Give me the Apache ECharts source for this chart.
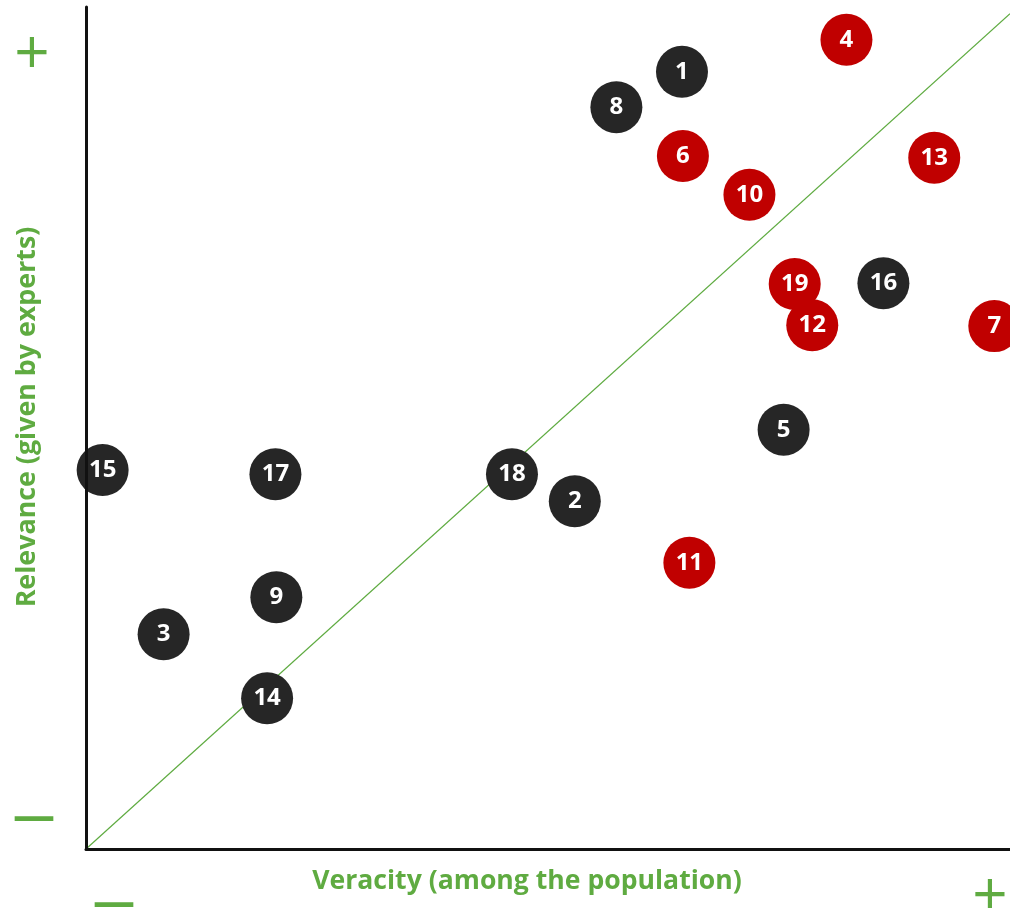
<!DOCTYPE html>
<html>
<head>
<meta charset="utf-8">
<script src="https://cdn.jsdelivr.net/npm/echarts@6/dist/echarts.min.js"></script>
<style>html,body{margin:0;padding:0;background:#fff;}#c{width:1010px;height:908px;}</style>
</head>
<body>
<div id="c"></div>
<script>
// Items: id, veracity (x), relevance (y), group
const blackIds = ['1','8','16','5','15','17','18','2','9','3','14'];
const blackX   = [64.5, 57.4, 86.3, 75.5, 1.8, 20.5, 46.1, 52.9, 20.6, 8.4, 19.6];
const blackY   = [92.3, 88.1, 67.2, 49.8, 45.0, 44.5, 44.5, 41.3, 29.9, 25.5, 17.9];

const redIds = ['4','6','13','10','19','12','7','11'];
const redX   = [82.3, 64.6, 91.8, 71.8, 76.7, 78.6, 98.3, 65.3];
const redY   = [96.1, 82.3, 82.1, 77.7, 67.1, 62.2, 62.1, 34.0];

const diagonal = [[0, 0], [100, 99.2]];

const xTitle = 'Veracity (among the population)';
const yTitle = 'Relevance (given by experts)';

const GREEN = '#5fab41';
const FONT = '"Open Sans", Lato, sans-serif';

function pts(ids, xs, ys) { return ids.map((id, i) => ({ name: id, value: [xs[i], ys[i]] })); }

const labelCfg = {
  show: true, position: 'inside', formatter: '{b}',
  color: '#fff', fontFamily: FONT, fontWeight: 'bold', fontSize: 24
};

const chart = echarts.init(document.getElementById('c'), null, { renderer: 'canvas' });
chart.setOption({
  animation: false,
  backgroundColor: '#fff',
  grid: { left: 86, right: 0, top: 7, bottom: 59 },
  xAxis: {
    type: 'value', min: 0, max: 100, z: 5,
    axisLine: { show: true, onZero: false, lineStyle: { color: '#111', width: 3 } },
    axisTick: { show: false }, axisLabel: { show: false }, splitLine: { show: false }
  },
  yAxis: {
    type: 'value', min: 0, max: 100, z: 5,
    axisLine: { show: true, onZero: false, lineStyle: { color: '#111', width: 3 } },
    axisTick: { show: false }, axisLabel: { show: false }, splitLine: { show: false }
  },
  series: [
    {
      type: 'line', data: diagonal, symbol: 'none', z: 1,
      lineStyle: { color: GREEN, width: 1.2 }, silent: true
    },
    {
      type: 'scatter', data: pts(blackIds, blackX, blackY), symbolSize: 52, clip: false, z: 2,
      itemStyle: { color: '#262626', opacity: 1 }, label: labelCfg
    },
    {
      type: 'scatter', data: pts(redIds, redX, redY), symbolSize: 52, clip: false, z: 2,
      itemStyle: { color: '#c00000', opacity: 1 }, label: labelCfg
    }
  ],
  graphic: [
    { type: 'text', x: 527, y: 881, style: { text: xTitle, fill: GREEN, font: 'bold 26.6px ' + FONT, align: 'center', verticalAlign: 'middle' } },
    { type: 'text', x: 27, y: 417, rotation: Math.PI / 2,
      style: { text: yTitle, fill: GREEN, font: 'bold 26.8px ' + FONT, align: 'center', verticalAlign: 'middle' } },
    { type: 'text', x: 32, y: 56, style: { text: '+', fill: GREEN, font: '62px ' + FONT, align: 'center', verticalAlign: 'middle' } },
    { type: 'text', x: 990, y: 898, style: { text: '+', fill: GREEN, font: '62px ' + FONT, align: 'center', verticalAlign: 'middle' } },
    { type: 'text', x: 34, y: 818, style: { text: '\u2014', fill: GREEN, font: 'bold 42px ' + FONT, align: 'center', verticalAlign: 'middle' } },
    { type: 'text', x: 114, y: 904, style: { text: '\u2014', fill: GREEN, font: 'bold 42px ' + FONT, align: 'center', verticalAlign: 'middle' } }
  ]
});
</script>
</body>
</html>
